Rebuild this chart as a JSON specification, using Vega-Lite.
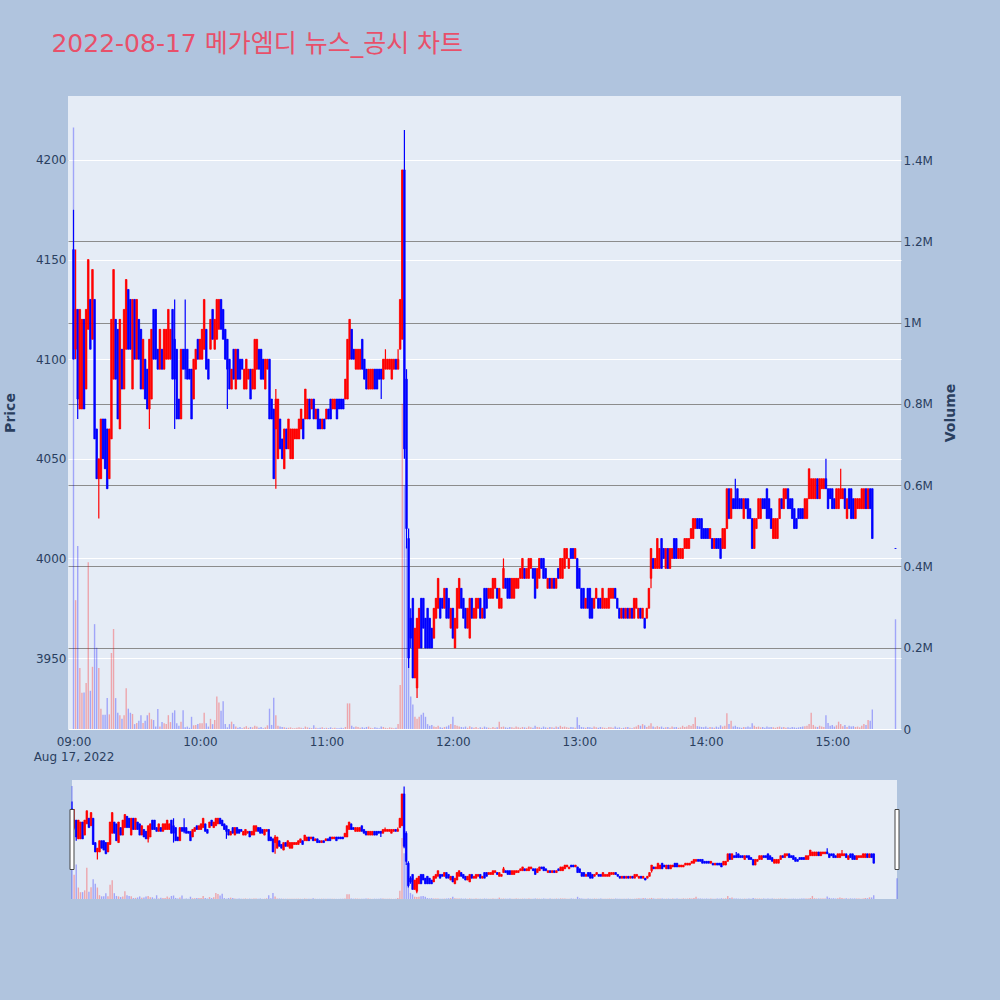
{
"$schema":"https://vega.github.io/schema/vega-lite/v6.json",
"autosize":{"type":"none"},
"width":833,"height":633,
"padding":{"left":68,"top":96,"right":99,"bottom":271},
"background":"#b0c4de",
"title":{"text":"2022-08-17 메가엠디 뉴스_공시 차트","anchor":"start","dx":48,"offset":19.5,"baseline":"alphabetic","fontSize":25,"fontWeight":"normal","color":"#e8506a","font":"DejaVu Sans, Noto Sans CJK KR"},
"config":{"view":{"fill":"#e5ecf6","stroke":null},"font":"DejaVu Sans","axis":{"labelColor":"#2a3f5f","titleColor":"#2a3f5f","labelFont":"DejaVu Sans","labelFontSize":12,"titleFont":"DejaVu Sans","titleFontSize":14,"titleFontWeight":"bold","domain":false,"ticks":false}},
"data":{"format":{"parse":{"t":"date:'%Y-%m-%dT%H:%M'"}},"values":[
{"t":"2022-08-17T09:00","o":4155,"h":4175,"l":4100,"c":4100,"v":1480000},
{"t":"2022-08-17T09:01","o":4105,"h":4155,"l":4100,"c":4125,"v":317000},
{"t":"2022-08-17T09:02","o":4125,"h":4125,"l":4070,"c":4080,"v":450000},
{"t":"2022-08-17T09:03","o":4075,"h":4125,"l":4075,"c":4125,"v":150000},
{"t":"2022-08-17T09:04","o":4075,"h":4120,"l":4075,"c":4120,"v":89000},
{"t":"2022-08-17T09:05","o":4120,"h":4120,"l":4075,"c":4075,"v":90000},
{"t":"2022-08-17T09:06","o":4085,"h":4125,"l":4085,"c":4125,"v":113000},
{"t":"2022-08-17T09:07","o":4115,"h":4150,"l":4115,"c":4150,"v":410000},
{"t":"2022-08-17T09:08","o":4130,"h":4130,"l":4105,"c":4105,"v":94000},
{"t":"2022-08-17T09:09","o":4110,"h":4145,"l":4110,"c":4145,"v":153000},
{"t":"2022-08-17T09:10","o":4130,"h":4130,"l":4060,"c":4060,"v":258000},
{"t":"2022-08-17T09:11","o":4065,"h":4065,"l":4040,"c":4040,"v":200000},
{"t":"2022-08-17T09:12","o":4040,"h":4050,"l":4020,"c":4050,"v":150000},
{"t":"2022-08-17T09:13","o":4040,"h":4070,"l":4040,"c":4070,"v":50000},
{"t":"2022-08-17T09:14","o":4070,"h":4070,"l":4050,"c":4050,"v":35000},
{"t":"2022-08-17T09:15","o":4070,"h":4070,"l":4045,"c":4045,"v":35000},
{"t":"2022-08-17T09:16","o":4065,"h":4065,"l":4035,"c":4035,"v":76000},
{"t":"2022-08-17T09:17","o":4040,"h":4065,"l":4040,"c":4065,"v":36000},
{"t":"2022-08-17T09:18","o":4060,"h":4120,"l":4060,"c":4120,"v":187000},
{"t":"2022-08-17T09:19","o":4090,"h":4145,"l":4090,"c":4145,"v":246000},
{"t":"2022-08-17T09:20","o":4120,"h":4120,"l":4090,"c":4090,"v":76000},
{"t":"2022-08-17T09:21","o":4115,"h":4115,"l":4070,"c":4070,"v":40000},
{"t":"2022-08-17T09:22","o":4065,"h":4120,"l":4065,"c":4120,"v":34000},
{"t":"2022-08-17T09:23","o":4105,"h":4105,"l":4085,"c":4085,"v":25000},
{"t":"2022-08-17T09:24","o":4085,"h":4125,"l":4085,"c":4125,"v":34000},
{"t":"2022-08-17T09:25","o":4105,"h":4140,"l":4105,"c":4140,"v":100000},
{"t":"2022-08-17T09:26","o":4135,"h":4135,"l":4105,"c":4105,"v":50000},
{"t":"2022-08-17T09:27","o":4130,"h":4130,"l":4105,"c":4105,"v":40000},
{"t":"2022-08-17T09:28","o":4085,"h":4130,"l":4085,"c":4130,"v":37000},
{"t":"2022-08-17T09:29","o":4130,"h":4130,"l":4100,"c":4100,"v":12000},
{"t":"2022-08-17T09:30","o":4100,"h":4130,"l":4100,"c":4130,"v":15000},
{"t":"2022-08-17T09:31","o":4120,"h":4120,"l":4100,"c":4100,"v":20000},
{"t":"2022-08-17T09:32","o":4115,"h":4115,"l":4085,"c":4085,"v":34000},
{"t":"2022-08-17T09:33","o":4085,"h":4110,"l":4085,"c":4110,"v":15000},
{"t":"2022-08-17T09:34","o":4100,"h":4100,"l":4080,"c":4080,"v":20000},
{"t":"2022-08-17T09:35","o":4095,"h":4095,"l":4075,"c":4075,"v":34000},
{"t":"2022-08-17T09:36","o":4075,"h":4110,"l":4065,"c":4110,"v":40000},
{"t":"2022-08-17T09:37","o":4080,"h":4115,"l":4080,"c":4115,"v":24000},
{"t":"2022-08-17T09:38","o":4125,"h":4125,"l":4100,"c":4100,"v":22000},
{"t":"2022-08-17T09:39","o":4125,"h":4125,"l":4100,"c":4100,"v":6000},
{"t":"2022-08-17T09:40","o":4105,"h":4105,"l":4095,"c":4095,"v":49000},
{"t":"2022-08-17T09:41","o":4095,"h":4115,"l":4095,"c":4115,"v":6000},
{"t":"2022-08-17T09:42","o":4105,"h":4105,"l":4095,"c":4095,"v":17000},
{"t":"2022-08-17T09:43","o":4095,"h":4115,"l":4095,"c":4115,"v":14000},
{"t":"2022-08-17T09:44","o":4100,"h":4115,"l":4100,"c":4115,"v":12000},
{"t":"2022-08-17T09:45","o":4100,"h":4125,"l":4100,"c":4125,"v":34000},
{"t":"2022-08-17T09:46","o":4100,"h":4115,"l":4100,"c":4115,"v":17000},
{"t":"2022-08-17T09:47","o":4125,"h":4125,"l":4090,"c":4090,"v":40000},
{"t":"2022-08-17T09:48","o":4110,"h":4130,"l":4065,"c":4090,"v":46000},
{"t":"2022-08-17T09:49","o":4105,"h":4105,"l":4070,"c":4070,"v":14000},
{"t":"2022-08-17T09:50","o":4080,"h":4080,"l":4070,"c":4070,"v":8000},
{"t":"2022-08-17T09:51","o":4070,"h":4105,"l":4070,"c":4105,"v":18000},
{"t":"2022-08-17T09:52","o":4105,"h":4105,"l":4095,"c":4095,"v":46000},
{"t":"2022-08-17T09:53","o":4105,"h":4130,"l":4090,"c":4095,"v":4000},
{"t":"2022-08-17T09:54","o":4105,"h":4105,"l":4090,"c":4090,"v":6000},
{"t":"2022-08-17T09:55","o":4095,"h":4095,"l":4090,"c":4090,"v":3000},
{"t":"2022-08-17T09:56","o":4095,"h":4095,"l":4070,"c":4070,"v":30000},
{"t":"2022-08-17T09:57","o":4080,"h":4100,"l":4080,"c":4100,"v":9000},
{"t":"2022-08-17T09:58","o":4095,"h":4105,"l":4095,"c":4105,"v":10000},
{"t":"2022-08-17T09:59","o":4110,"h":4110,"l":4100,"c":4100,"v":12000},
{"t":"2022-08-17T10:00","o":4100,"h":4110,"l":4100,"c":4110,"v":14000},
{"t":"2022-08-17T10:01","o":4100,"h":4115,"l":4100,"c":4115,"v":14000},
{"t":"2022-08-17T10:02","o":4105,"h":4130,"l":4105,"c":4130,"v":40000},
{"t":"2022-08-17T10:03","o":4115,"h":4115,"l":4095,"c":4095,"v":14000},
{"t":"2022-08-17T10:04","o":4100,"h":4100,"l":4090,"c":4090,"v":6000},
{"t":"2022-08-17T10:05","o":4105,"h":4120,"l":4105,"c":4120,"v":25000},
{"t":"2022-08-17T10:06","o":4125,"h":4125,"l":4110,"c":4110,"v":12000},
{"t":"2022-08-17T10:07","o":4105,"h":4120,"l":4105,"c":4120,"v":22000},
{"t":"2022-08-17T10:08","o":4110,"h":4130,"l":4110,"c":4130,"v":80000},
{"t":"2022-08-17T10:09","o":4115,"h":4130,"l":4115,"c":4130,"v":65000},
{"t":"2022-08-17T10:10","o":4130,"h":4130,"l":4115,"c":4115,"v":45000},
{"t":"2022-08-17T10:11","o":4125,"h":4125,"l":4110,"c":4110,"v":68000},
{"t":"2022-08-17T10:12","o":4115,"h":4115,"l":4100,"c":4100,"v":12000},
{"t":"2022-08-17T10:13","o":4110,"h":4110,"l":4075,"c":4095,"v":4000},
{"t":"2022-08-17T10:14","o":4100,"h":4100,"l":4085,"c":4085,"v":12000},
{"t":"2022-08-17T10:15","o":4085,"h":4095,"l":4085,"c":4095,"v":18000},
{"t":"2022-08-17T10:16","o":4105,"h":4105,"l":4090,"c":4090,"v":12000},
{"t":"2022-08-17T10:17","o":4085,"h":4105,"l":4085,"c":4105,"v":6000},
{"t":"2022-08-17T10:18","o":4105,"h":4105,"l":4090,"c":4090,"v":3000},
{"t":"2022-08-17T10:19","o":4100,"h":4100,"l":4090,"c":4090,"v":5000},
{"t":"2022-08-17T10:20","o":4100,"h":4100,"l":4095,"c":4095,"v":2000},
{"t":"2022-08-17T10:21","o":4085,"h":4095,"l":4085,"c":4095,"v":4000},
{"t":"2022-08-17T10:22","o":4085,"h":4100,"l":4085,"c":4100,"v":7000},
{"t":"2022-08-17T10:23","o":4090,"h":4095,"l":4090,"c":4095,"v":3000},
{"t":"2022-08-17T10:24","o":4095,"h":4095,"l":4080,"c":4080,"v":5000},
{"t":"2022-08-17T10:25","o":4085,"h":4095,"l":4085,"c":4095,"v":4000},
{"t":"2022-08-17T10:26","o":4085,"h":4110,"l":4085,"c":4110,"v":8000},
{"t":"2022-08-17T10:27","o":4095,"h":4110,"l":4095,"c":4110,"v":6000},
{"t":"2022-08-17T10:28","o":4105,"h":4105,"l":4095,"c":4095,"v":3000},
{"t":"2022-08-17T10:29","o":4105,"h":4105,"l":4090,"c":4090,"v":5000},
{"t":"2022-08-17T10:30","o":4100,"h":4100,"l":4090,"c":4090,"v":2000},
{"t":"2022-08-17T10:31","o":4085,"h":4100,"l":4085,"c":4100,"v":4000},
{"t":"2022-08-17T10:32","o":4095,"h":4100,"l":4095,"c":4100,"v":9000},
{"t":"2022-08-17T10:33","o":4100,"h":4100,"l":4070,"c":4070,"v":50000},
{"t":"2022-08-17T10:34","o":4080,"h":4080,"l":4070,"c":4070,"v":10000},
{"t":"2022-08-17T10:35","o":4075,"h":4075,"l":4040,"c":4040,"v":77000},
{"t":"2022-08-17T10:36","o":4065,"h":4085,"l":4035,"c":4080,"v":34000},
{"t":"2022-08-17T10:37","o":4050,"h":4080,"l":4050,"c":4080,"v":8000},
{"t":"2022-08-17T10:38","o":4070,"h":4070,"l":4055,"c":4055,"v":6000},
{"t":"2022-08-17T10:39","o":4060,"h":4060,"l":4050,"c":4050,"v":5000},
{"t":"2022-08-17T10:40","o":4045,"h":4065,"l":4045,"c":4065,"v":4000},
{"t":"2022-08-17T10:41","o":4065,"h":4065,"l":4055,"c":4055,"v":3000},
{"t":"2022-08-17T10:42","o":4055,"h":4070,"l":4055,"c":4070,"v":3000},
{"t":"2022-08-17T10:43","o":4050,"h":4065,"l":4050,"c":4065,"v":4000},
{"t":"2022-08-17T10:44","o":4050,"h":4065,"l":4050,"c":4065,"v":2000},
{"t":"2022-08-17T10:45","o":4060,"h":4065,"l":4060,"c":4065,"v":2000},
{"t":"2022-08-17T10:46","o":4060,"h":4065,"l":4060,"c":4065,"v":3000},
{"t":"2022-08-17T10:47","o":4060,"h":4070,"l":4060,"c":4070,"v":4000},
{"t":"2022-08-17T10:48","o":4065,"h":4075,"l":4065,"c":4075,"v":3000},
{"t":"2022-08-17T10:49","o":4070,"h":4070,"l":4060,"c":4060,"v":2000},
{"t":"2022-08-17T10:50","o":4070,"h":4085,"l":4070,"c":4085,"v":6000},
{"t":"2022-08-17T10:51","o":4070,"h":4080,"l":4070,"c":4080,"v":4000},
{"t":"2022-08-17T10:52","o":4080,"h":4080,"l":4070,"c":4070,"v":3000},
{"t":"2022-08-17T10:53","o":4075,"h":4080,"l":4075,"c":4080,"v":2000},
{"t":"2022-08-17T10:54","o":4080,"h":4080,"l":4070,"c":4070,"v":9000},
{"t":"2022-08-17T10:55","o":4070,"h":4075,"l":4070,"c":4075,"v":3000},
{"t":"2022-08-17T10:56","o":4075,"h":4075,"l":4065,"c":4065,"v":2000},
{"t":"2022-08-17T10:57","o":4070,"h":4070,"l":4065,"c":4065,"v":3000},
{"t":"2022-08-17T10:58","o":4065,"h":4070,"l":4065,"c":4070,"v":4000},
{"t":"2022-08-17T10:59","o":4070,"h":4070,"l":4065,"c":4065,"v":2000},
{"t":"2022-08-17T11:00","o":4070,"h":4075,"l":4070,"c":4075,"v":3000},
{"t":"2022-08-17T11:01","o":4075,"h":4075,"l":4070,"c":4070,"v":2000},
{"t":"2022-08-17T11:02","o":4080,"h":4080,"l":4070,"c":4070,"v":4000},
{"t":"2022-08-17T11:03","o":4075,"h":4080,"l":4075,"c":4080,"v":2000},
{"t":"2022-08-17T11:04","o":4075,"h":4080,"l":4075,"c":4080,"v":3000},
{"t":"2022-08-17T11:05","o":4080,"h":4080,"l":4070,"c":4070,"v":2000},
{"t":"2022-08-17T11:06","o":4080,"h":4080,"l":4075,"c":4075,"v":2000},
{"t":"2022-08-17T11:07","o":4080,"h":4080,"l":4075,"c":4075,"v":3000},
{"t":"2022-08-17T11:08","o":4080,"h":4080,"l":4075,"c":4075,"v":2000},
{"t":"2022-08-17T11:09","o":4080,"h":4090,"l":4080,"c":4090,"v":5000},
{"t":"2022-08-17T11:10","o":4080,"h":4110,"l":4080,"c":4110,"v":63000},
{"t":"2022-08-17T11:11","o":4100,"h":4120,"l":4100,"c":4120,"v":63000},
{"t":"2022-08-17T11:12","o":4115,"h":4115,"l":4100,"c":4100,"v":8000},
{"t":"2022-08-17T11:13","o":4105,"h":4105,"l":4100,"c":4100,"v":4000},
{"t":"2022-08-17T11:14","o":4095,"h":4105,"l":4095,"c":4105,"v":6000},
{"t":"2022-08-17T11:15","o":4095,"h":4105,"l":4095,"c":4105,"v":5000},
{"t":"2022-08-17T11:16","o":4095,"h":4105,"l":4095,"c":4105,"v":3000},
{"t":"2022-08-17T11:17","o":4110,"h":4110,"l":4095,"c":4095,"v":4000},
{"t":"2022-08-17T11:18","o":4100,"h":4100,"l":4090,"c":4090,"v":3000},
{"t":"2022-08-17T11:19","o":4095,"h":4095,"l":4085,"c":4085,"v":5000},
{"t":"2022-08-17T11:20","o":4085,"h":4095,"l":4085,"c":4095,"v":6000},
{"t":"2022-08-17T11:21","o":4085,"h":4095,"l":4085,"c":4095,"v":3000},
{"t":"2022-08-17T11:22","o":4085,"h":4095,"l":4085,"c":4095,"v":2000},
{"t":"2022-08-17T11:23","o":4095,"h":4095,"l":4085,"c":4085,"v":4000},
{"t":"2022-08-17T11:24","o":4095,"h":4095,"l":4085,"c":4085,"v":3000},
{"t":"2022-08-17T11:25","o":4095,"h":4095,"l":4090,"c":4090,"v":2000},
{"t":"2022-08-17T11:26","o":4095,"h":4095,"l":4080,"c":4090,"v":6000},
{"t":"2022-08-17T11:27","o":4090,"h":4100,"l":4090,"c":4100,"v":5000},
{"t":"2022-08-17T11:28","o":4095,"h":4105,"l":4095,"c":4100,"v":3000},
{"t":"2022-08-17T11:29","o":4095,"h":4100,"l":4095,"c":4100,"v":2000},
{"t":"2022-08-17T11:30","o":4095,"h":4100,"l":4095,"c":4100,"v":4000},
{"t":"2022-08-17T11:31","o":4090,"h":4100,"l":4090,"c":4100,"v":3000},
{"t":"2022-08-17T11:32","o":4095,"h":4100,"l":4095,"c":4100,"v":2000},
{"t":"2022-08-17T11:33","o":4100,"h":4100,"l":4095,"c":4095,"v":3000},
{"t":"2022-08-17T11:34","o":4095,"h":4105,"l":4095,"c":4100,"v":12000},
{"t":"2022-08-17T11:35","o":4105,"h":4130,"l":4105,"c":4130,"v":108000},
{"t":"2022-08-17T11:36","o":4110,"h":4195,"l":4110,"c":4195,"v":800000},
{"t":"2022-08-17T11:37","o":4195,"h":4215,"l":4050,"c":4055,"v":600000},
{"t":"2022-08-17T11:38","o":4090,"h":4095,"l":4005,"c":4015,"v":450000},
{"t":"2022-08-17T11:39","o":4010,"h":4015,"l":3945,"c":3950,"v":300000},
{"t":"2022-08-17T11:40","o":3970,"h":3975,"l":3955,"c":3960,"v":80000},
{"t":"2022-08-17T11:41","o":3980,"h":3980,"l":3940,"c":3940,"v":60000},
{"t":"2022-08-17T11:42","o":3940,"h":3965,"l":3940,"c":3965,"v":30000},
{"t":"2022-08-17T11:43","o":3935,"h":3970,"l":3930,"c":3970,"v":25000},
{"t":"2022-08-17T11:44","o":3955,"h":3975,"l":3955,"c":3975,"v":30000},
{"t":"2022-08-17T11:45","o":3980,"h":3980,"l":3955,"c":3955,"v":35000},
{"t":"2022-08-17T11:46","o":3980,"h":3980,"l":3965,"c":3965,"v":40000},
{"t":"2022-08-17T11:47","o":3970,"h":3970,"l":3955,"c":3955,"v":30000},
{"t":"2022-08-17T11:48","o":3975,"h":3975,"l":3955,"c":3955,"v":12000},
{"t":"2022-08-17T11:49","o":3970,"h":3970,"l":3955,"c":3955,"v":8000},
{"t":"2022-08-17T11:50","o":3965,"h":3965,"l":3955,"c":3955,"v":10000},
{"t":"2022-08-17T11:51","o":3960,"h":3975,"l":3960,"c":3975,"v":6000},
{"t":"2022-08-17T11:52","o":3970,"h":3980,"l":3970,"c":3980,"v":5000},
{"t":"2022-08-17T11:53","o":3975,"h":3990,"l":3975,"c":3990,"v":8000},
{"t":"2022-08-17T11:54","o":3980,"h":3980,"l":3970,"c":3970,"v":4000},
{"t":"2022-08-17T11:55","o":3980,"h":3980,"l":3975,"c":3975,"v":3000},
{"t":"2022-08-17T11:56","o":3975,"h":3985,"l":3975,"c":3985,"v":5000},
{"t":"2022-08-17T11:57","o":3985,"h":3985,"l":3970,"c":3970,"v":6000},
{"t":"2022-08-17T11:58","o":3980,"h":3980,"l":3970,"c":3970,"v":9000},
{"t":"2022-08-17T11:59","o":3965,"h":3975,"l":3965,"c":3975,"v":12000},
{"t":"2022-08-17T12:00","o":3975,"h":3975,"l":3960,"c":3960,"v":30000},
{"t":"2022-08-17T12:01","o":3955,"h":3970,"l":3955,"c":3970,"v":10000},
{"t":"2022-08-17T12:02","o":3965,"h":3985,"l":3965,"c":3985,"v":8000},
{"t":"2022-08-17T12:03","o":3975,"h":3990,"l":3975,"c":3990,"v":6000},
{"t":"2022-08-17T12:04","o":3985,"h":3985,"l":3975,"c":3975,"v":5000},
{"t":"2022-08-17T12:05","o":3980,"h":3980,"l":3970,"c":3970,"v":4000},
{"t":"2022-08-17T12:06","o":3975,"h":3975,"l":3965,"c":3965,"v":6000},
{"t":"2022-08-17T12:07","o":3965,"h":3975,"l":3965,"c":3975,"v":3000},
{"t":"2022-08-17T12:08","o":3960,"h":3980,"l":3960,"c":3980,"v":7000},
{"t":"2022-08-17T12:09","o":3980,"h":3980,"l":3970,"c":3970,"v":4000},
{"t":"2022-08-17T12:10","o":3970,"h":3975,"l":3970,"c":3975,"v":3000},
{"t":"2022-08-17T12:11","o":3970,"h":3980,"l":3970,"c":3980,"v":5000},
{"t":"2022-08-17T12:12","o":3975,"h":3980,"l":3975,"c":3980,"v":2000},
{"t":"2022-08-17T12:13","o":3980,"h":3980,"l":3970,"c":3970,"v":4000},
{"t":"2022-08-17T12:14","o":3970,"h":3975,"l":3970,"c":3975,"v":3000},
{"t":"2022-08-17T12:15","o":3985,"h":3985,"l":3970,"c":3970,"v":6000},
{"t":"2022-08-17T12:16","o":3985,"h":3985,"l":3975,"c":3975,"v":4000},
{"t":"2022-08-17T12:17","o":3980,"h":3985,"l":3980,"c":3985,"v":3000},
{"t":"2022-08-17T12:18","o":3980,"h":3985,"l":3980,"c":3985,"v":2000},
{"t":"2022-08-17T12:19","o":3980,"h":3990,"l":3980,"c":3990,"v":5000},
{"t":"2022-08-17T12:20","o":3985,"h":3990,"l":3985,"c":3990,"v":3000},
{"t":"2022-08-17T12:21","o":3985,"h":3985,"l":3980,"c":3980,"v":4000},
{"t":"2022-08-17T12:22","o":3975,"h":3985,"l":3975,"c":3985,"v":18000},
{"t":"2022-08-17T12:23","o":3975,"h":3980,"l":3975,"c":3980,"v":5000},
{"t":"2022-08-17T12:24","o":3985,"h":4000,"l":3985,"c":3995,"v":6000},
{"t":"2022-08-17T12:25","o":3990,"h":3990,"l":3985,"c":3985,"v":4000},
{"t":"2022-08-17T12:26","o":3990,"h":3990,"l":3980,"c":3980,"v":3000},
{"t":"2022-08-17T12:27","o":3990,"h":3990,"l":3980,"c":3980,"v":5000},
{"t":"2022-08-17T12:28","o":3980,"h":3990,"l":3980,"c":3990,"v":4000},
{"t":"2022-08-17T12:29","o":3980,"h":3990,"l":3980,"c":3990,"v":3000},
{"t":"2022-08-17T12:30","o":3985,"h":3990,"l":3985,"c":3990,"v":6000},
{"t":"2022-08-17T12:31","o":3985,"h":3990,"l":3985,"c":3990,"v":4000},
{"t":"2022-08-17T12:32","o":3990,"h":3995,"l":3990,"c":3995,"v":3000},
{"t":"2022-08-17T12:33","o":3990,"h":4000,"l":3990,"c":4000,"v":5000},
{"t":"2022-08-17T12:34","o":3995,"h":3995,"l":3990,"c":3990,"v":4000},
{"t":"2022-08-17T12:35","o":3990,"h":3995,"l":3990,"c":3995,"v":3000},
{"t":"2022-08-17T12:36","o":3990,"h":4000,"l":3990,"c":4000,"v":6000},
{"t":"2022-08-17T12:37","o":3995,"h":4000,"l":3995,"c":4000,"v":4000},
{"t":"2022-08-17T12:38","o":3995,"h":3995,"l":3990,"c":3990,"v":3000},
{"t":"2022-08-17T12:39","o":3995,"h":3995,"l":3980,"c":3980,"v":8000},
{"t":"2022-08-17T12:40","o":3985,"h":3995,"l":3985,"c":3995,"v":5000},
{"t":"2022-08-17T12:41","o":3990,"h":4000,"l":3990,"c":4000,"v":4000},
{"t":"2022-08-17T12:42","o":4000,"h":4000,"l":3995,"c":3995,"v":3000},
{"t":"2022-08-17T12:43","o":4000,"h":4000,"l":3990,"c":3990,"v":6000},
{"t":"2022-08-17T12:44","o":3995,"h":3995,"l":3990,"c":3990,"v":4000},
{"t":"2022-08-17T12:45","o":3985,"h":3990,"l":3985,"c":3990,"v":3000},
{"t":"2022-08-17T12:46","o":3990,"h":3990,"l":3985,"c":3985,"v":5000},
{"t":"2022-08-17T12:47","o":3985,"h":3990,"l":3985,"c":3990,"v":4000},
{"t":"2022-08-17T12:48","o":3990,"h":3990,"l":3985,"c":3985,"v":3000},
{"t":"2022-08-17T12:49","o":3985,"h":3990,"l":3985,"c":3990,"v":6000},
{"t":"2022-08-17T12:50","o":3995,"h":3995,"l":3990,"c":3990,"v":4000},
{"t":"2022-08-17T12:51","o":3990,"h":4000,"l":3990,"c":4000,"v":8000},
{"t":"2022-08-17T12:52","o":3990,"h":4000,"l":3990,"c":4000,"v":5000},
{"t":"2022-08-17T12:53","o":3995,"h":4005,"l":3995,"c":4005,"v":6000},
{"t":"2022-08-17T12:54","o":4000,"h":4005,"l":4000,"c":4005,"v":4000},
{"t":"2022-08-17T12:55","o":3995,"h":4000,"l":3995,"c":4000,"v":3000},
{"t":"2022-08-17T12:56","o":4005,"h":4005,"l":4000,"c":4000,"v":5000},
{"t":"2022-08-17T12:57","o":4005,"h":4005,"l":4000,"c":4000,"v":4000},
{"t":"2022-08-17T12:58","o":4000,"h":4005,"l":4000,"c":4005,"v":3000},
{"t":"2022-08-17T12:59","o":4000,"h":4000,"l":3985,"c":3985,"v":29000},
{"t":"2022-08-17T13:00","o":3995,"h":3995,"l":3985,"c":3985,"v":10000},
{"t":"2022-08-17T13:01","o":3985,"h":3985,"l":3975,"c":3975,"v":5000},
{"t":"2022-08-17T13:02","o":3985,"h":3985,"l":3975,"c":3975,"v":4000},
{"t":"2022-08-17T13:03","o":3975,"h":3980,"l":3975,"c":3980,"v":3000},
{"t":"2022-08-17T13:04","o":3985,"h":3985,"l":3975,"c":3975,"v":5000},
{"t":"2022-08-17T13:05","o":3985,"h":3985,"l":3970,"c":3970,"v":4000},
{"t":"2022-08-17T13:06","o":3980,"h":3980,"l":3970,"c":3970,"v":3000},
{"t":"2022-08-17T13:07","o":3975,"h":3980,"l":3975,"c":3980,"v":6000},
{"t":"2022-08-17T13:08","o":3980,"h":3985,"l":3980,"c":3985,"v":4000},
{"t":"2022-08-17T13:09","o":3980,"h":3980,"l":3975,"c":3975,"v":3000},
{"t":"2022-08-17T13:10","o":3980,"h":3980,"l":3975,"c":3975,"v":5000},
{"t":"2022-08-17T13:11","o":3975,"h":3985,"l":3975,"c":3985,"v":4000},
{"t":"2022-08-17T13:12","o":3975,"h":3980,"l":3975,"c":3980,"v":3000},
{"t":"2022-08-17T13:13","o":3975,"h":3980,"l":3975,"c":3980,"v":2000},
{"t":"2022-08-17T13:14","o":3975,"h":3985,"l":3975,"c":3985,"v":5000},
{"t":"2022-08-17T13:15","o":3980,"h":3985,"l":3980,"c":3985,"v":4000},
{"t":"2022-08-17T13:16","o":3980,"h":3985,"l":3980,"c":3985,"v":3000},
{"t":"2022-08-17T13:17","o":3985,"h":3985,"l":3980,"c":3980,"v":6000},
{"t":"2022-08-17T13:18","o":3980,"h":3980,"l":3975,"c":3975,"v":3000},
{"t":"2022-08-17T13:19","o":3975,"h":3975,"l":3970,"c":3970,"v":4000},
{"t":"2022-08-17T13:20","o":3970,"h":3975,"l":3970,"c":3975,"v":2000},
{"t":"2022-08-17T13:21","o":3975,"h":3975,"l":3970,"c":3970,"v":3000},
{"t":"2022-08-17T13:22","o":3970,"h":3975,"l":3970,"c":3975,"v":4000},
{"t":"2022-08-17T13:23","o":3975,"h":3975,"l":3970,"c":3970,"v":5000},
{"t":"2022-08-17T13:24","o":3970,"h":3975,"l":3970,"c":3975,"v":3000},
{"t":"2022-08-17T13:25","o":3975,"h":3975,"l":3970,"c":3970,"v":2000},
{"t":"2022-08-17T13:26","o":3970,"h":3980,"l":3970,"c":3980,"v":4000},
{"t":"2022-08-17T13:27","o":3975,"h":3980,"l":3975,"c":3980,"v":6000},
{"t":"2022-08-17T13:28","o":3970,"h":3975,"l":3970,"c":3975,"v":10000},
{"t":"2022-08-17T13:29","o":3975,"h":3975,"l":3970,"c":3970,"v":8000},
{"t":"2022-08-17T13:30","o":3970,"h":3975,"l":3970,"c":3975,"v":12000},
{"t":"2022-08-17T13:31","o":3970,"h":3970,"l":3965,"c":3965,"v":9000},
{"t":"2022-08-17T13:32","o":3970,"h":3975,"l":3970,"c":3975,"v":5000},
{"t":"2022-08-17T13:33","o":3975,"h":3985,"l":3975,"c":3985,"v":8000},
{"t":"2022-08-17T13:34","o":3990,"h":4005,"l":3985,"c":4005,"v":14000},
{"t":"2022-08-17T13:35","o":4000,"h":4000,"l":3995,"c":3995,"v":6000},
{"t":"2022-08-17T13:36","o":3995,"h":4000,"l":3995,"c":4000,"v":4000},
{"t":"2022-08-17T13:37","o":3995,"h":4010,"l":3995,"c":4010,"v":7000},
{"t":"2022-08-17T13:38","o":3995,"h":4005,"l":3995,"c":4005,"v":5000},
{"t":"2022-08-17T13:39","o":4010,"h":4010,"l":3995,"c":3995,"v":6000},
{"t":"2022-08-17T13:40","o":4005,"h":4005,"l":4000,"c":4000,"v":3000},
{"t":"2022-08-17T13:41","o":3995,"h":4005,"l":3995,"c":4005,"v":4000},
{"t":"2022-08-17T13:42","o":4005,"h":4005,"l":3995,"c":3995,"v":5000},
{"t":"2022-08-17T13:43","o":3995,"h":4005,"l":3995,"c":4005,"v":3000},
{"t":"2022-08-17T13:44","o":4000,"h":4005,"l":4000,"c":4005,"v":6000},
{"t":"2022-08-17T13:45","o":4010,"h":4010,"l":4000,"c":4000,"v":4000},
{"t":"2022-08-17T13:46","o":4010,"h":4010,"l":4000,"c":4000,"v":5000},
{"t":"2022-08-17T13:47","o":4000,"h":4005,"l":4000,"c":4005,"v":3000},
{"t":"2022-08-17T13:48","o":4000,"h":4005,"l":4000,"c":4005,"v":4000},
{"t":"2022-08-17T13:49","o":4000,"h":4005,"l":4000,"c":4005,"v":8000},
{"t":"2022-08-17T13:50","o":4005,"h":4010,"l":4005,"c":4010,"v":5000},
{"t":"2022-08-17T13:51","o":4005,"h":4010,"l":4005,"c":4010,"v":6000},
{"t":"2022-08-17T13:52","o":4005,"h":4010,"l":4005,"c":4010,"v":10000},
{"t":"2022-08-17T13:53","o":4010,"h":4015,"l":4010,"c":4015,"v":8000},
{"t":"2022-08-17T13:54","o":4010,"h":4020,"l":4010,"c":4020,"v":12000},
{"t":"2022-08-17T13:55","o":4015,"h":4020,"l":4015,"c":4020,"v":29000},
{"t":"2022-08-17T13:56","o":4020,"h":4020,"l":4015,"c":4015,"v":7000},
{"t":"2022-08-17T13:57","o":4020,"h":4020,"l":4015,"c":4015,"v":6000},
{"t":"2022-08-17T13:58","o":4020,"h":4020,"l":4010,"c":4010,"v":5000},
{"t":"2022-08-17T13:59","o":4015,"h":4015,"l":4010,"c":4010,"v":4000},
{"t":"2022-08-17T14:00","o":4015,"h":4015,"l":4010,"c":4010,"v":6000},
{"t":"2022-08-17T14:01","o":4015,"h":4015,"l":4010,"c":4010,"v":3000},
{"t":"2022-08-17T14:02","o":4010,"h":4015,"l":4010,"c":4015,"v":5000},
{"t":"2022-08-17T14:03","o":4010,"h":4010,"l":4005,"c":4005,"v":4000},
{"t":"2022-08-17T14:04","o":4005,"h":4010,"l":4005,"c":4010,"v":3000},
{"t":"2022-08-17T14:05","o":4010,"h":4010,"l":4005,"c":4005,"v":6000},
{"t":"2022-08-17T14:06","o":4010,"h":4010,"l":4005,"c":4005,"v":4000},
{"t":"2022-08-17T14:07","o":4010,"h":4010,"l":4000,"c":4000,"v":9000},
{"t":"2022-08-17T14:08","o":4005,"h":4015,"l":4005,"c":4015,"v":6000},
{"t":"2022-08-17T14:09","o":4005,"h":4015,"l":4005,"c":4015,"v":8000},
{"t":"2022-08-17T14:10","o":4015,"h":4035,"l":4015,"c":4035,"v":39000},
{"t":"2022-08-17T14:11","o":4035,"h":4035,"l":4020,"c":4020,"v":12000},
{"t":"2022-08-17T14:12","o":4020,"h":4035,"l":4020,"c":4035,"v":20000},
{"t":"2022-08-17T14:13","o":4030,"h":4030,"l":4025,"c":4025,"v":6000},
{"t":"2022-08-17T14:14","o":4030,"h":4040,"l":4025,"c":4025,"v":8000},
{"t":"2022-08-17T14:15","o":4035,"h":4035,"l":4025,"c":4025,"v":5000},
{"t":"2022-08-17T14:16","o":4030,"h":4030,"l":4025,"c":4025,"v":4000},
{"t":"2022-08-17T14:17","o":4030,"h":4030,"l":4025,"c":4025,"v":3000},
{"t":"2022-08-17T14:18","o":4020,"h":4030,"l":4020,"c":4030,"v":5000},
{"t":"2022-08-17T14:19","o":4030,"h":4030,"l":4025,"c":4025,"v":4000},
{"t":"2022-08-17T14:20","o":4030,"h":4030,"l":4020,"c":4020,"v":6000},
{"t":"2022-08-17T14:21","o":4025,"h":4025,"l":4020,"c":4020,"v":4000},
{"t":"2022-08-17T14:22","o":4020,"h":4020,"l":4005,"c":4005,"v":14000},
{"t":"2022-08-17T14:23","o":4005,"h":4020,"l":4005,"c":4020,"v":8000},
{"t":"2022-08-17T14:24","o":4015,"h":4020,"l":4015,"c":4020,"v":5000},
{"t":"2022-08-17T14:25","o":4020,"h":4030,"l":4020,"c":4030,"v":6000},
{"t":"2022-08-17T14:26","o":4020,"h":4030,"l":4020,"c":4030,"v":4000},
{"t":"2022-08-17T14:27","o":4030,"h":4030,"l":4025,"c":4025,"v":5000},
{"t":"2022-08-17T14:28","o":4030,"h":4030,"l":4025,"c":4025,"v":3000},
{"t":"2022-08-17T14:29","o":4035,"h":4035,"l":4020,"c":4020,"v":6000},
{"t":"2022-08-17T14:30","o":4030,"h":4030,"l":4020,"c":4020,"v":4000},
{"t":"2022-08-17T14:31","o":4025,"h":4025,"l":4015,"c":4015,"v":5000},
{"t":"2022-08-17T14:32","o":4010,"h":4020,"l":4010,"c":4020,"v":4000},
{"t":"2022-08-17T14:33","o":4010,"h":4020,"l":4010,"c":4020,"v":3000},
{"t":"2022-08-17T14:34","o":4010,"h":4020,"l":4010,"c":4020,"v":5000},
{"t":"2022-08-17T14:35","o":4020,"h":4030,"l":4020,"c":4030,"v":6000},
{"t":"2022-08-17T14:36","o":4030,"h":4030,"l":4025,"c":4025,"v":4000},
{"t":"2022-08-17T14:37","o":4025,"h":4035,"l":4025,"c":4035,"v":5000},
{"t":"2022-08-17T14:38","o":4030,"h":4035,"l":4030,"c":4035,"v":3000},
{"t":"2022-08-17T14:39","o":4035,"h":4035,"l":4025,"c":4025,"v":4000},
{"t":"2022-08-17T14:40","o":4030,"h":4030,"l":4025,"c":4025,"v":3000},
{"t":"2022-08-17T14:41","o":4030,"h":4030,"l":4020,"c":4020,"v":5000},
{"t":"2022-08-17T14:42","o":4025,"h":4025,"l":4015,"c":4015,"v":4000},
{"t":"2022-08-17T14:43","o":4020,"h":4020,"l":4015,"c":4015,"v":3000},
{"t":"2022-08-17T14:44","o":4025,"h":4025,"l":4020,"c":4020,"v":4000},
{"t":"2022-08-17T14:45","o":4025,"h":4025,"l":4020,"c":4020,"v":5000},
{"t":"2022-08-17T14:46","o":4025,"h":4025,"l":4020,"c":4020,"v":6000},
{"t":"2022-08-17T14:47","o":4020,"h":4030,"l":4020,"c":4030,"v":7000},
{"t":"2022-08-17T14:48","o":4020,"h":4030,"l":4020,"c":4030,"v":8000},
{"t":"2022-08-17T14:49","o":4030,"h":4045,"l":4030,"c":4045,"v":12000},
{"t":"2022-08-17T14:50","o":4030,"h":4040,"l":4030,"c":4040,"v":40000},
{"t":"2022-08-17T14:51","o":4030,"h":4040,"l":4030,"c":4040,"v":10000},
{"t":"2022-08-17T14:52","o":4030,"h":4040,"l":4030,"c":4040,"v":6000},
{"t":"2022-08-17T14:53","o":4040,"h":4040,"l":4030,"c":4030,"v":5000},
{"t":"2022-08-17T14:54","o":4030,"h":4040,"l":4030,"c":4040,"v":8000},
{"t":"2022-08-17T14:55","o":4035,"h":4040,"l":4035,"c":4040,"v":6000},
{"t":"2022-08-17T14:56","o":4035,"h":4040,"l":4035,"c":4040,"v":5000},
{"t":"2022-08-17T14:57","o":4040,"h":4050,"l":4035,"c":4035,"v":34000},
{"t":"2022-08-17T14:58","o":4035,"h":4035,"l":4025,"c":4025,"v":15000},
{"t":"2022-08-17T14:59","o":4035,"h":4035,"l":4030,"c":4030,"v":8000},
{"t":"2022-08-17T15:00","o":4035,"h":4035,"l":4025,"c":4025,"v":10000},
{"t":"2022-08-17T15:01","o":4030,"h":4030,"l":4025,"c":4025,"v":6000},
{"t":"2022-08-17T15:02","o":4025,"h":4035,"l":4025,"c":4035,"v":9000},
{"t":"2022-08-17T15:03","o":4025,"h":4035,"l":4025,"c":4035,"v":18000},
{"t":"2022-08-17T15:04","o":4030,"h":4045,"l":4030,"c":4035,"v":12000},
{"t":"2022-08-17T15:05","o":4030,"h":4035,"l":4030,"c":4035,"v":7000},
{"t":"2022-08-17T15:06","o":4035,"h":4035,"l":4025,"c":4025,"v":10000},
{"t":"2022-08-17T15:07","o":4020,"h":4030,"l":4020,"c":4030,"v":5000},
{"t":"2022-08-17T15:08","o":4035,"h":4035,"l":4025,"c":4025,"v":8000},
{"t":"2022-08-17T15:09","o":4035,"h":4035,"l":4020,"c":4020,"v":6000},
{"t":"2022-08-17T15:10","o":4030,"h":4030,"l":4020,"c":4020,"v":7000},
{"t":"2022-08-17T15:11","o":4020,"h":4030,"l":4020,"c":4030,"v":5000},
{"t":"2022-08-17T15:12","o":4025,"h":4030,"l":4025,"c":4030,"v":6000},
{"t":"2022-08-17T15:13","o":4025,"h":4030,"l":4025,"c":4030,"v":4000},
{"t":"2022-08-17T15:14","o":4025,"h":4035,"l":4025,"c":4035,"v":8000},
{"t":"2022-08-17T15:15","o":4025,"h":4035,"l":4025,"c":4035,"v":12000},
{"t":"2022-08-17T15:16","o":4035,"h":4035,"l":4025,"c":4025,"v":10000},
{"t":"2022-08-17T15:17","o":4025,"h":4035,"l":4025,"c":4035,"v":22000},
{"t":"2022-08-17T15:18","o":4035,"h":4035,"l":4025,"c":4025,"v":20000},
{"t":"2022-08-17T15:19","o":4035,"h":4035,"l":4010,"c":4010,"v":48000},
{"t":"2022-08-17T15:30","o":4005,"h":4005,"l":4005,"c":4005,"v":270000}
]},
"layer":[
 {"layer":[
  {"mark":{"type":"bar","size":1.4,"opacity":0.3},
   "encoding":{
    "x":{"field":"t","type":"temporal","scale":{"padding":5.5},
         "axis":{"title":null,"grid":false,"format":"%H:%M","tickCount":7,"labelPadding":7,"labelFlush":false,"labelOverlap":false}},
    "y":{"field":"v","type":"quantitative","scale":{"domain":[0,1557500],"nice":false},
         "axis":{"orient":"right","title":"Volume","values":[0,200000,400000,600000,800000,1000000,1200000,1400000],"labelExpr":"datum.value==0 ? '0' : format(datum.value/1000000,'~g')+'M'","labelPadding":2,"titlePadding":25,"titleAngle":270,"grid":true,"gridColor":{"condition":{"test":"datum.value==0","value":"#ffffff"},"value":"#8c8c8c"},"gridWidth":1}},
    "color":{"condition":{"test":"datum.c > datum.o","value":"#ff0000"},"value":"#0000ff"}}},
  {"layer":[
    {"mark":{"type":"rule","strokeWidth":1.2},
     "encoding":{
      "x":{"field":"t","type":"temporal","axis":{"orient":"bottom","title":null,"grid":false,"tickCount":7,"labelExpr":"hours(datum.value)==9 ? 'Aug 17, 2022' : ''","labelPadding":7,"offset":15,"labelFlush":false,"labelOverlap":false}},
      "y":{"field":"l","type":"quantitative","scale":{"domain":[3914.4,4232.1],"nice":false,"zero":false},
           "axis":{"orient":"left","title":"Price","format":"d","values":[3950,4000,4050,4100,4150,4200],"labelPadding":2,"titlePadding":18,"grid":true,"gridColor":"#ffffff","gridWidth":1}},
      "y2":{"field":"h"},
      "color":{"condition":{"test":"datum.c > datum.o","value":"#ff0000"},"value":"#0000ff"}}},
    {"mark":{"type":"bar","size":1.6,"strokeWidth":0.7},
     "encoding":{
      "x":{"field":"t","type":"temporal"},
      "y":{"field":"o","type":"quantitative"},
      "y2":{"field":"c"},
      "color":{"condition":{"test":"datum.c > datum.o","value":"#ff0000"},"value":"#0000ff"},
      "stroke":{"condition":{"test":"datum.c > datum.o","value":"#ff0000"},"value":"#0000ff"}}}
  ]}
 ],
 "resolve":{"scale":{"y":"independent"},"axis":{"x":"independent"}}},
 {"layer":[
  {"mark":{"type":"rect","color":"#e5ecf6"},
   "encoding":{
    "x":{"aggregate":"min","field":"t","type":"temporal","scale":{"range":[4,829],"padding":0},"axis":null},
    "x2":{"aggregate":"max","field":"t"},
    "y":{"datum":0,"type":"quantitative","scale":{"domain":[0,1],"range":[803,684]},"axis":null},
    "y2":{"datum":1}}},
  {"mark":{"type":"bar","size":1.4,"opacity":0.3},
   "encoding":{
    "x":{"field":"t","type":"temporal","axis":null},
    "y":{"field":"v","type":"quantitative","scale":{"domain":[0,1557500],"range":[803,684],"nice":false},"axis":null},
    "color":{"condition":{"test":"datum.c > datum.o","value":"#ff0000"},"value":"#0000ff"}}},
  {"layer":[
    {"mark":{"type":"rule","strokeWidth":1.2},
     "encoding":{
      "x":{"field":"t","type":"temporal","axis":null},
      "y":{"field":"l","type":"quantitative","scale":{"domain":[3914.4,4232.1],"range":[803,684],"nice":false,"zero":false},"axis":null},
      "y2":{"field":"h"},
      "color":{"condition":{"test":"datum.c > datum.o","value":"#ff0000"},"value":"#0000ff"}}},
    {"mark":{"type":"bar","size":1.6,"strokeWidth":0.7},
     "encoding":{
      "x":{"field":"t","type":"temporal","axis":null},
      "y":{"field":"o","type":"quantitative"},
      "y2":{"field":"c"},
      "color":{"condition":{"test":"datum.c > datum.o","value":"#ff0000"},"value":"#0000ff"},
      "stroke":{"condition":{"test":"datum.c > datum.o","value":"#ff0000"},"value":"#0000ff"}}}
  ]},
  {"mark":{"type":"tick","orient":"vertical","size":60,"thickness":4,"color":"#ffffff","stroke":"#444444","strokeWidth":1,"opacity":1},
   "encoding":{
    "x":{"aggregate":"min","field":"t","type":"temporal","axis":null},
    "y":{"datum":0.5,"type":"quantitative","scale":{"domain":[0,1],"range":[803,684]},"axis":null}}},
  {"mark":{"type":"tick","orient":"vertical","size":60,"thickness":4,"color":"#ffffff","stroke":"#444444","strokeWidth":1,"opacity":1},
   "encoding":{
    "x":{"aggregate":"max","field":"t","type":"temporal","axis":null},
    "y":{"datum":0.5,"type":"quantitative","scale":{"domain":[0,1],"range":[803,684]},"axis":null}}}
 ],
 "resolve":{"scale":{"y":"independent"}}}
],
"resolve":{"scale":{"x":"independent","y":"independent"}}
}
